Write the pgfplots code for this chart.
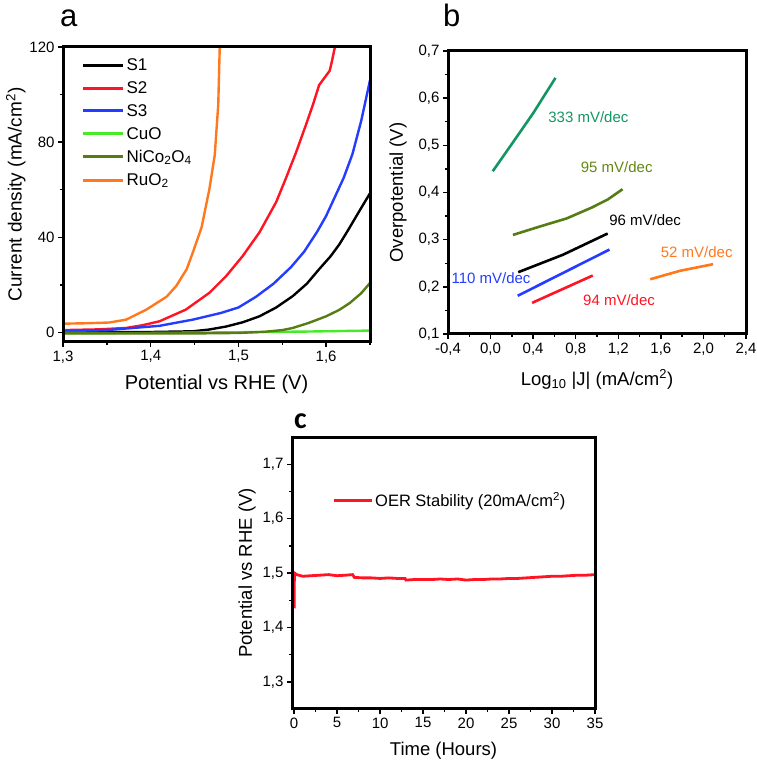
\documentclass[border=0pt]{standalone}
\usepackage{fontspec}
\setmainfont{Liberation Sans}
\newfontfamily\carlito{Carlito}
\usepackage{pgfplots}
\pgfplotsset{compat=1.18}

\definecolor{sred}{RGB}{255,20,35}
\definecolor{sblue}{RGB}{35,60,255}
\definecolor{cuo}{RGB}{70,235,40}
\definecolor{nico}{RGB}{85,125,20}
\definecolor{ruo}{RGB}{255,120,30}
\definecolor{tealg}{RGB}{20,150,100}
\definecolor{olivet}{RGB}{100,135,20}

\pgfplotsset{
  panel/.style={
    scale only axis,
    clip=false,
    tick align=outside,
    xtick pos=left, ytick pos=left,
    major tick length=5pt, minor tick length=3pt,
    tick style={black, line width=1.4pt},
    /pgf/number format/assume math mode=true,
    /pgf/number format/use comma,
    ticklabel style={font=\fontsize{15}{15}\selectfont},
    label style={font=\fontsize{20}{22}\selectfont},
  },
}

\begin{document}
\begin{tikzpicture}
\useasboundingbox (0,0) rectangle (756pt,763pt);

% panel letters
\node[anchor=base west, inner sep=0pt, font=\fontsize{31}{31}\selectfont] at (60pt,736pt) {a};
\node[anchor=base west, inner sep=0pt, font=\fontsize{31}{31}\selectfont] at (443pt,736pt) {b};
\node[anchor=base west, inner sep=0pt, font=\fontsize{30}{30}\selectfont\carlito\bfseries] at (294pt,334pt) {c};

% ---- a: polarisation curves
\begin{axis}[panel, name=pa,
  at={(63pt,421pt)}, anchor=south west, width=307pt, height=295pt,
  xmin=1.3, xmax=1.65, ymin=-4, ymax=120,
  xtick={1.3,1.4,1.5,1.6}, minor xtick={1.35,1.45,1.55,1.65},
  ytick={0,40,80,120}, minor ytick={20,60,100},
  xticklabel style={/pgf/number format/.cd, fixed, fixed zerofill, precision=1},
  xlabel={Potential vs RHE (V)},
  ylabel={Current density (mA/cm\textsuperscript{2})},
  ylabel style={font=\fontsize{19}{21}\selectfont},
  xlabel shift=5pt, ylabel shift=-3pt,
  legend style={at={(0.05,0.975)}, anchor=north west, draw=none, fill=none,
    font=\fontsize{17}{17}\selectfont, row sep=5.5pt},
  legend cell align=left,
  legend image code/.code={\draw[#1, line width=3pt] (0pt,0pt) -- (40pt,0pt);},
]
\addplot[black, line width=2.4pt] coordinates {
 (1.30,0.1)(1.40,0.2)(1.448,0.5)(1.466,1.2)(1.486,2.5)(1.505,4.3)(1.524,6.8)
 (1.543,10.5)(1.562,15.3)(1.578,20.5)(1.592,26.6)(1.605,32)(1.615,37)
 (1.625,43)(1.637,50.5)(1.65,58.5)};
\addlegendentry{S1}
\addplot[sred, line width=2.4pt] coordinates {
 (1.30,1.0)(1.34,1.3)(1.372,1.9)(1.39,3)(1.41,4.7)(1.44,9.6)(1.467,16.7)
 (1.486,23.7)(1.505,32.2)(1.524,42.1)(1.543,54.8)(1.554,64.7)(1.566,76)
 (1.577,87.3)(1.585,95.8)(1.592,104)(1.600,108)(1.604,110)(1.606,113)(1.610,120)};
\addlegendentry{S2}
\addplot[sblue, line width=2.4pt] coordinates {
 (1.30,0.6)(1.35,1.0)(1.41,2.8)(1.448,5.4)(1.48,8.2)(1.50,10.5)(1.52,15)
 (1.54,20.5)(1.56,27.5)(1.575,34)(1.59,42.5)(1.60,49)(1.61,57)(1.62,65)
 (1.63,75)(1.64,89)(1.65,106)};
\addlegendentry{S3}
\addplot[cuo, line width=2.4pt] coordinates {
 (1.30,-0.3)(1.40,-0.2)(1.50,0.1)(1.58,0.4)(1.65,0.8)};
\addlegendentry{CuO}
\addplot[nico, line width=2.4pt] coordinates {
 (1.30,-0.4)(1.45,-0.4)(1.50,-0.2)(1.53,0.3)(1.55,1.0)(1.562,1.9)(1.58,4)
 (1.60,6.8)(1.615,9.5)(1.627,12.4)(1.64,16.5)(1.65,20.8)};
\addlegendentry{NiCo\textsubscript{2}O\textsubscript{4}}
\addplot[ruo, line width=2.4pt] coordinates {
 (1.30,3.7)(1.33,3.9)(1.353,4.2)(1.372,5.4)(1.395,9.6)(1.418,15)(1.429,19.5)
 (1.441,26.6)(1.448,33.6)(1.458,44.2)(1.467,60.5)(1.473,74.6)(1.477,95.8)(1.4787,120)};
\addlegendentry{RuO\textsubscript{2}}
\end{axis}
\draw[black, line width=3pt, line cap=rect] (pa.south west) rectangle (pa.north east);

% ---- b: Tafel plots
\begin{axis}[panel, name=pb,
  at={(448pt,429pt)}, anchor=south west, width=298pt, height=283pt,
  xmin=-0.4, xmax=2.4, ymin=0.1, ymax=0.7,
  xtick={-0.4,0,0.4,0.8,1.2,1.6,2.0,2.4}, minor tick num=1,
  ytick={0.1,0.2,0.3,0.4,0.5,0.6,0.7},
  ticklabel style={font=\fontsize{15}{15}\selectfont,
    /pgf/number format/.cd, fixed, fixed zerofill, precision=1},
  label style={font=\fontsize{18.5}{20}\selectfont},
  xlabel={Log\textsubscript{10} |J| (mA/cm\textsuperscript{2})},
  ylabel={Overpotential (V)},
  xlabel shift=8pt, ylabel shift=5pt,
]
\addplot[tealg, line width=2.6pt] coordinates {
 (0.02,0.445)(0.2,0.503)(0.4,0.568)(0.61,0.643)};
\addplot[nico, line width=2.6pt] coordinates {
 (0.21,0.310)(0.45,0.327)(0.715,0.345)(0.95,0.368)(1.1,0.385)(1.24,0.407)};
\addplot[black, line width=2.6pt] coordinates {
 (0.26,0.231)(0.68,0.268)(1.10,0.313)};
\addplot[sblue, line width=2.6pt] coordinates {
 (0.255,0.181)(1.117,0.279)};
\addplot[sred, line width=2.6pt] coordinates {
 (0.39,0.166)(0.96,0.224)};
\addplot[ruo, line width=2.6pt] coordinates {
 (1.50,0.216)(1.78,0.234)(2.09,0.248)};
\begin{scope}[font=\fontsize{15}{15}\selectfont]
\node[text=tealg] at (axis cs:0.919,0.559) {333 mV/dec};
\node[text=olivet] at (axis cs:1.185,0.453) {95 mV/dec};
\node[text=black] at (axis cs:1.452,0.342) {96 mV/dec};
\node[text=ruo] at (axis cs:1.937,0.273) {52 mV/dec};
\node[text=sblue] at (axis cs:0.004,0.219) {110 mV/dec};
\node[text=sred] at (axis cs:1.207,0.172) {94 mV/dec};
\end{scope}
\end{axis}
\draw[black, line width=3pt, line cap=rect] (pb.south west) rectangle (pb.north east);

% ---- c: stability
\begin{axis}[panel, name=pc,
  at={(292pt,54pt)}, anchor=south west, width=303pt, height=272pt,
  xmin=-0.25, xmax=35, ymin=1.25, ymax=1.75,
  xtick={0,5,10,15,20,25,30,35}, minor tick num=1,
  ytick={1.3,1.4,1.5,1.6,1.7},
  ticklabel style={font=\fontsize{15}{15}\selectfont},
  yticklabel style={/pgf/number format/.cd, fixed, fixed zerofill, precision=1},
  label style={font=\fontsize{18.5}{20}\selectfont},
  xlabel={Time (Hours)},
  ylabel={Potential vs RHE (V)},
  xlabel shift=7pt,
  legend style={at={(0.122,0.768)}, anchor=west, draw=none, fill=none,
    font=\fontsize{16.5}{16.5}\selectfont},
  legend image code/.code={\draw[#1, line width=3pt] (0pt,0pt) -- (38pt,0pt);},
]
\addplot[sred, line width=2.8pt] coordinates {
 (0,1.435)(0.03,1.500)(0.3,1.497)(1,1.494)(2,1.495)(3,1.496)(4,1.497)(5,1.495)
 (6,1.496)(6.8,1.497)(7,1.492)(8,1.491)(9,1.491)(10,1.490)(11,1.491)(12,1.490)
 (12.9,1.490)(13,1.487)(14,1.488)(15,1.488)(16,1.488)(17,1.489)(18,1.488)
 (19,1.489)(20,1.487)(21,1.488)(22,1.488)(23,1.489)(24,1.489)(25,1.490)
 (26,1.490)(27,1.491)(28,1.492)(29,1.493)(30,1.494)(31,1.494)(32,1.495)
 (33,1.496)(34,1.496)(35,1.497)};
\addlegendentry{OER Stability (20mA/cm\textsuperscript{2})}
\end{axis}
\draw[black, line width=3pt, line cap=rect] (pc.south west) rectangle (pc.north east);
\end{tikzpicture}
\end{document}
